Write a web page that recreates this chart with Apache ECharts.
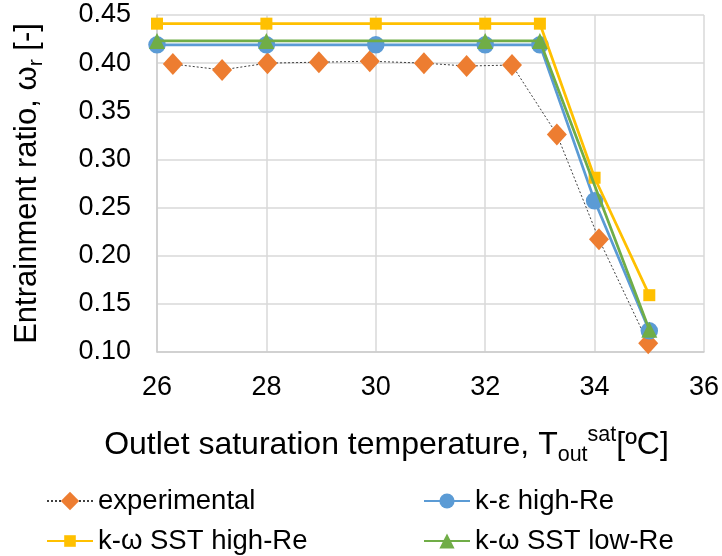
<!DOCTYPE html>
<html>
<head>
<meta charset="utf-8">
<script src="https://cdn.jsdelivr.net/npm/echarts@6/dist/echarts.min.js"></script>
<style>
  html, body { margin: 0; padding: 0; background: #fff; }
  #chart { width: 722px; height: 556px; }
</style>
</head>
<body>
<div id="chart"></div>
<script>
// Entrainment ratio vs. outlet saturation temperature
const expT = [26.29, 27.19, 28.02, 28.96, 29.89, 30.88, 31.66, 32.49, 33.31, 34.08, 34.98];
const expW = [0.399, 0.393, 0.400, 0.401, 0.402, 0.400, 0.397, 0.398, 0.326, 0.217, 0.109];

const keT = [26, 28, 30, 32, 33, 34, 35];
const keW = [0.419, 0.419, 0.419, 0.419, 0.419, 0.257, 0.122];

const sstHighT = [26, 28, 30, 32, 33, 34, 35];
const sstHighW = [0.441, 0.441, 0.441, 0.441, 0.441, 0.281, 0.159];

const sstLowT = [26, 28, 32, 33, 35];
const sstLowW = [0.423, 0.423, 0.423, 0.423, 0.123];

const seriesNames = ['experimental', 'k-ε high-Re', 'k-ω SST high-Re', 'k-ω SST low-Re'];
const xTicks = { min: 26, max: 36, step: 2 };
const yTicks = { min: 0.10, max: 0.45, step: 0.05 };

const pairs = (xs, ys) => xs.map((x, i) => [x, ys[i]]);

const FONT = 'Liberation Sans';
const TXT = '#000000';
const GRID = '#d9d9d9';

const chart = echarts.init(document.getElementById('chart'), null, { renderer: 'canvas' });

function legendAt(name, left, top, iconH) {
  return {
    data: [name],
    left: left, top: top,
    padding: 0,
    itemWidth: 46, itemHeight: iconH,
    itemGap: 0,
    selectedMode: false,
    textStyle: { fontFamily: FONT, fontSize: 27.5, color: TXT }
  };
}

chart.setOption({
  animation: false,
  backgroundColor: '#ffffff',
  grid: {
    left: 157, right: 18, top: 15, bottom: 204,
    containLabel: false,
    outerBoundsMode: 'none'
  },
  legend: [
    legendAt(seriesNames[0], 46, 487, 23),
    legendAt(seriesNames[1], 423, 487, 19),
    legendAt(seriesNames[2], 46, 527, 14.5),
    legendAt(seriesNames[3], 423, 527, 19)
  ],
  xAxis: {
    type: 'value',
    min: xTicks.min, max: xTicks.max, interval: xTicks.step,
    axisLine: { show: true, lineStyle: { color: '#cccccc', width: 1.5 } },
    axisTick: { show: false },
    splitLine: { show: true, lineStyle: { color: GRID, width: 1.5 } },
    axisLabel: { fontFamily: FONT, fontSize: 27, color: TXT, margin: 22 },
    name: 'Outlet saturation temperature, T{sub|out}{sup|sat}[ºC]',
    nameLocation: 'middle',
    nameGap: 72,
    nameTextStyle: {
      fontFamily: FONT, fontSize: 32, color: TXT, lineHeight: 42,
      padding: [0, 88, 0, 0],
      rich: {
        sub: { fontFamily: FONT, fontSize: 21.5, color: TXT, lineHeight: 22, verticalAlign: 'bottom' },
        sup: { fontFamily: FONT, fontSize: 21.5, color: TXT, lineHeight: 30, verticalAlign: 'top' }
      }
    }
  },
  yAxis: {
    type: 'value',
    min: yTicks.min, max: yTicks.max, interval: yTicks.step,
    axisLine: { show: true, lineStyle: { color: '#cccccc', width: 1.5 } },
    axisTick: { show: false },
    splitLine: { show: true, lineStyle: { color: GRID, width: 1.5 } },
    axisLabel: {
      fontFamily: FONT, fontSize: 27, color: TXT, margin: 26,
      formatter: v => v.toFixed(2)
    },
    name: 'Entrainment ratio, ω{sub|r} [-]',
    nameLocation: 'middle',
    nameGap: 110,
    nameRotate: 90,
    nameTextStyle: {
      fontFamily: FONT, fontSize: 31, color: TXT, lineHeight: 40,
      rich: {
        sub: { fontFamily: FONT, fontSize: 21, color: TXT, lineHeight: 22, verticalAlign: 'bottom' }
      }
    }
  },
  series: [
    {
      name: seriesNames[0], type: 'line', data: pairs(expT, expW),
      symbol: 'diamond', symbolSize: [20, 22],
      itemStyle: { color: '#ED7D31' },
      lineStyle: { color: '#404040', width: 1, type: [2, 2] },
      z: 2
    },
    {
      name: seriesNames[1], type: 'line', data: pairs(keT, keW),
      symbol: 'circle', symbolSize: 17.5,
      itemStyle: { color: '#5B9BD5' },
      lineStyle: { color: '#5B9BD5', width: 2.75 },
      z: 3
    },
    {
      name: seriesNames[2], type: 'line', data: pairs(sstHighT, sstHighW),
      symbol: 'rect', symbolSize: 12,
      itemStyle: { color: '#FFC000' },
      lineStyle: { color: '#FFC000', width: 2.75 },
      z: 4
    },
    {
      name: seriesNames[3], type: 'line', data: pairs(sstLowT, sstLowW),
      symbol: 'triangle', symbolSize: 16,
      itemStyle: { color: '#70AD47' },
      lineStyle: { color: '#70AD47', width: 2.75 },
      z: 5
    }
  ]
});
</script>
</body>
</html>
